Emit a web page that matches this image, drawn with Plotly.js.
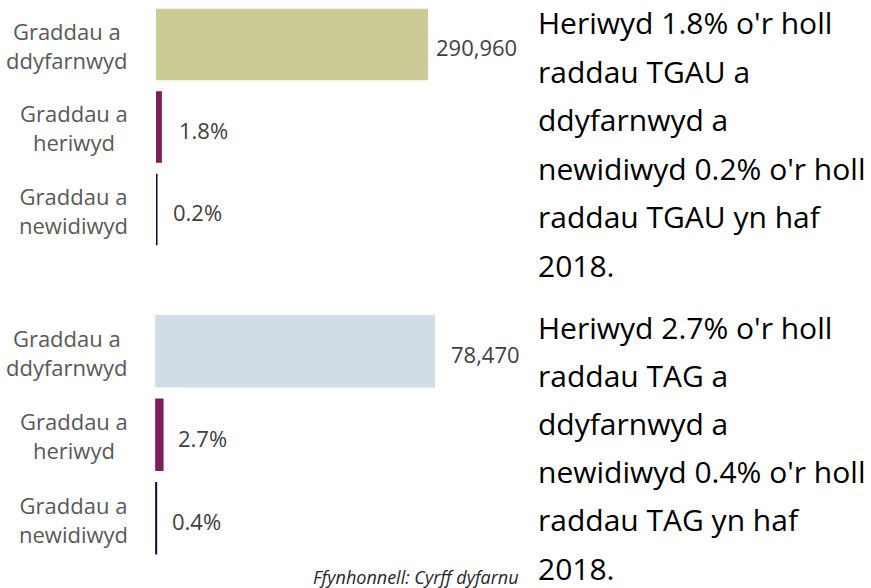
<!DOCTYPE html>
<html>
<head>
<meta charset="utf-8">
<script src="https://cdn.plot.ly/plotly-3.0.1.min.js"></script>
<style>
html,body{margin:0;padding:0;background:#fff;}
#chart{width:871px;height:588px;}
</style>
</head>
<body>
<div id="chart"></div>
<script>
// ---- data ----
const categories = ['Graddau a ddyfarnwyd', 'Graddau a heriwyd', 'Graddau a newidiwyd'];
const tickLabels = ['Graddau a<br>ddyfarnwyd', 'Graddau a<br>heriwyd', 'Graddau a<br>newidiwyd'];
// share of all grades awarded (%)
const gcsePct = [100, 1.8, 0.2];
const gcseLabels = ['290,960', '1.8%', '0.2%'];
const alevelPct = [100, 2.7, 0.4];
const alevelLabels = ['78,470', '2.7%', '0.4%'];
const gcseText = ["Heriwyd 1.8% o'r holl", "raddau TGAU a", "ddyfarnwyd a", "newidiwyd 0.2% o'r holl", "raddau TGAU yn haf", "2018."];
const alevelText = ["Heriwyd 2.7% o'r holl", "raddau TAG a", "ddyfarnwyd a", "newidiwyd 0.4% o'r holl", "raddau TAG yn haf", "2018."];
const sourceText = 'Ffynhonnell: Cyrff dyfarnu';

// ---- styles ----
const W = 871, H = 588;
const FONT = 'Open Sans, Noto Sans, sans-serif';
const gcseColors = ['#CCCB97', '#7E1F5C', '#0B0A3A'];
const alevelColors = ['#D0DDE7', '#7E1F5C', '#0B0A3A'];

const traces = [
  {
    type: 'bar', orientation: 'h', x: gcsePct, y: categories,
    xaxis: 'x', yaxis: 'y',
    marker: {color: gcseColors, line: {color: gcseColors, width: 2}},
    width: 0.84, hoverinfo: 'skip'
  },
  {
    type: 'bar', orientation: 'h', x: alevelPct, y: categories,
    xaxis: 'x2', yaxis: 'y2',
    marker: {color: alevelColors, line: {color: alevelColors, width: 1.5}},
    width: 0.85, hoverinfo: 'skip'
  }
];

const annotations = [];
const gcseShift = [6, 16, 14.5];
const alevelShift = [14, 13, 13.5];
const labFont = {family: FONT, size: 22, color: '#404040'};
const catFont = {family: FONT, size: 22, color: '#595959'};
categories.forEach((c, i) => {
  annotations.push({xref: 'x', yref: 'y', x: gcsePct[i], y: c, text: gcseLabels[i],
    xanchor: 'left', yanchor: 'middle', xshift: gcseShift[i], yshift: -3, showarrow: false, font: labFont});
  annotations.push({xref: 'x2', yref: 'y2', x: alevelPct[i], y: c, text: alevelLabels[i],
    xanchor: 'left', yanchor: 'middle', xshift: alevelShift[i], yshift: -3, showarrow: false, font: labFont});
  annotations.push({xref: 'paper', yref: 'y', x: 130 / W, y: c, text: tickLabels[i],
    xanchor: 'right', yanchor: 'middle', align: 'center', yshift: -1, showarrow: false, font: catFont});
  annotations.push({xref: 'paper', yref: 'y2', x: 130 / W, y: c, text: tickLabels[i],
    xanchor: 'right', yanchor: 'middle', align: 'center', yshift: -1, showarrow: false, font: catFont});
});
gcseText.forEach((t, i) => {
  annotations.push({xref: 'paper', yref: 'paper', x: 537 / W, y: 1 - (23 + 48.4 * i) / H,
    text: t, xanchor: 'left', yanchor: 'middle', showarrow: false, borderpad: 0,
    font: {family: FONT, size: 30, color: '#000000'}});
});
alevelText.forEach((t, i) => {
  annotations.push({xref: 'paper', yref: 'paper', x: 537 / W, y: 1 - (327 + 48.2 * i) / H,
    text: t, xanchor: 'left', yanchor: 'middle', showarrow: false, borderpad: 0,
    font: {family: FONT, size: 30, color: '#000000'}});
});
annotations.push({xref: 'paper', yref: 'paper', x: 520 / W, y: 1 - 577 / H, text: '<i>' + sourceText + '</i>',
  xanchor: 'right', yanchor: 'middle', showarrow: false, borderpad: 0,
  font: {family: FONT, size: 18, color: '#262626'}});

const yax = {
  type: 'category', autorange: 'reversed',
  showticklabels: false, ticks: '',
  showline: false, showgrid: false, zeroline: false, fixedrange: true
};
const xax = {range: [0, 100], visible: false, showgrid: false, zeroline: false, fixedrange: true};

const layout = {
  width: W, height: H,
  margin: {l: 0, r: 0, t: 0, b: 0},
  paper_bgcolor: '#ffffff', plot_bgcolor: 'rgba(0,0,0,0)',
  showlegend: false,
  xaxis: Object.assign({}, xax, {domain: [156 / W, 428 / W], anchor: 'y'}),
  yaxis: Object.assign({}, yax, {domain: [1 - 250.75 / H, 1 - 3.25 / H], anchor: 'x'}),
  xaxis2: Object.assign({}, xax, {domain: [155.3 / W, 435 / W], anchor: 'y2'}),
  yaxis2: Object.assign({}, yax, {domain: [1 - 560 / H, 1 - 309.5 / H], anchor: 'x2'}),
  annotations: annotations
};

Plotly.newPlot('chart', traces, layout, {displayModeBar: false, staticPlot: true});
</script>
</body>
</html>
